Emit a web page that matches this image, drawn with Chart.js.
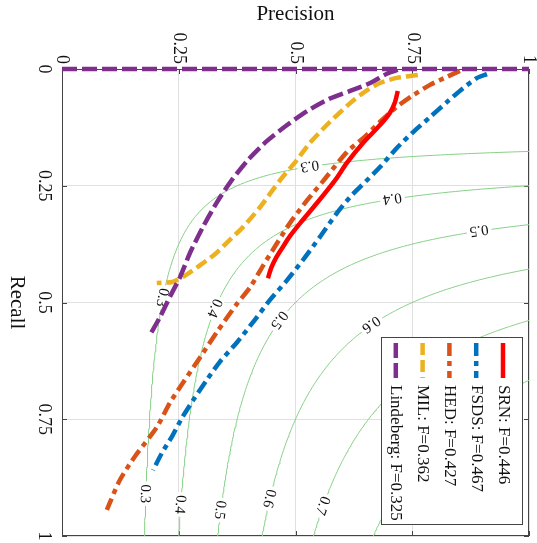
<!DOCTYPE html>
<html lang="en">
<head>
<meta charset="UTF-8">
<title>Precision / Recall</title>
<script src="https://cdn.jsdelivr.net/npm/chart.js"></script>
<style>
  body { margin: 0; padding: 0; background: #fff; }
  #wrap { width: 537px; height: 543px; }
</style>
</head>
<body>
<div id="wrap"><canvas id="prChart" width="537" height="543"></canvas></div>
<script>
// precision (horizontal) and recall (vertical)
const srnP = [0.719, 0.713, 0.702, 0.681, 0.645, 0.610, 0.585, 0.546, 0.510, 0.488, 0.473, 0.458, 0.448, 0.441];
const srnR = [0.047, 0.071, 0.094, 0.120, 0.158, 0.201, 0.238, 0.287, 0.330, 0.358, 0.381, 0.405, 0.426, 0.448];

const fsdsP = [0.910, 0.889, 0.859, 0.824, 0.788, 0.752, 0.717, 0.681, 0.640, 0.617, 0.589, 0.552, 0.516, 0.482, 0.445, 0.413, 0.375, 0.338, 0.310, 0.281, 0.257, 0.236, 0.214, 0.195];
const fsdsR = [0.011, 0.019, 0.041, 0.071, 0.103, 0.135, 0.169, 0.210, 0.251, 0.274, 0.308, 0.360, 0.409, 0.452, 0.495, 0.537, 0.585, 0.627, 0.666, 0.709, 0.747, 0.786, 0.822, 0.859];

const hedP = [0.852, 0.824, 0.788, 0.752, 0.717, 0.681, 0.645, 0.610, 0.559, 0.525, 0.488, 0.458, 0.430, 0.403, 0.373, 0.332, 0.296, 0.259, 0.231, 0.203, 0.158, 0.124, 0.096];
const hedR = [0.004, 0.017, 0.034, 0.056, 0.081, 0.113, 0.148, 0.178, 0.240, 0.281, 0.330, 0.377, 0.422, 0.467, 0.505, 0.563, 0.617, 0.672, 0.715, 0.767, 0.827, 0.880, 0.944];

const milP = [0.762, 0.717, 0.681, 0.645, 0.617, 0.574, 0.531, 0.503, 0.467, 0.424, 0.388, 0.355, 0.328, 0.296, 0.259, 0.236, 0.203];
const milR = [0.013, 0.019, 0.030, 0.051, 0.073, 0.113, 0.158, 0.195, 0.238, 0.296, 0.338, 0.370, 0.396, 0.420, 0.445, 0.456, 0.458];

const lindP = [0.719, 0.698, 0.660, 0.617, 0.572, 0.525, 0.482, 0.439, 0.398, 0.362, 0.332, 0.302, 0.274, 0.253, 0.231, 0.210, 0.188];
const lindR = [0.002, 0.009, 0.030, 0.047, 0.064, 0.090, 0.120, 0.154, 0.195, 0.240, 0.285, 0.338, 0.394, 0.445, 0.488, 0.531, 0.570];
// Lindeberg also runs along recall = 0
const lindTopP = [0, 1];
const lindTopR = [0, 0];

const legendLabels = ["SRN: F=0.446", "FSDS: F=0.467", "HED: F=0.427", "MIL: F=0.362", "Lindeberg: F=0.325"];

const tickValues = [0, 0.25, 0.5, 0.75, 1];
const tickLabels = ["0", "0.25", "0.5", "0.75", "1"];

// iso-F contours, and roughly where each label sits (precision, recall)
const isoF = [0.3, 0.4, 0.5, 0.6, 0.7, 0.8];
const isoLabelF = [0.3, 0.3, 0.3, 0.4, 0.4, 0.4, 0.5, 0.5, 0.5, 0.6, 0.6, 0.7];
const isoLabelP = [0.531, 0.210, 0.176, 0.709, 0.323, 0.253, 0.891, 0.467, 0.341, 0.660, 0.454, 0.570];
const isoLabelR = [0.206, 0.488, 0.912, 0.276, 0.510, 0.929, 0.345, 0.537, 0.944, 0.544, 0.923, 0.940];

const SERIF = '"Liberation Serif", "Times New Roman", serif';

function pts(P, R) {
    return P.map((p, i) => ({ x: p, y: R[i] }));
}

// F = 2PR / (P + R)  ->  R = F*P / (2P - F)
function isoRecall(f, p) {
    return f * p / (2 * p - f);
}

function isoCurve(f) {
    const pMin = f / (2 - f);
    const ps = [];
    for (let i = 0; i <= 100; i++) {
        const u = pMin + (1 - pMin) * i / 100;
        ps.push(u);
        ps.push(isoRecall(f, u)); // same formula gives P for an even step in R
    }
    ps.sort((a, b) => a - b);
    return ps.map(p => ({ x: p, y: Math.min(1, isoRecall(f, p)) }));
}

const lineBase = { showLine: true, pointRadius: 0, fill: false, borderWidth: 4.5, tension: 0.25 };
const dashDot = [13, 5, 5, 5];

const datasets = [
    { ...lineBase, label: legendLabels[4], data: pts(lindTopP, lindTopR), borderColor: '#7e2f8e', borderDash: [15, 5], tension: 0, clip: false, order: 0 },
    { ...lineBase, label: legendLabels[4], data: pts(lindP, lindR), borderColor: '#7e2f8e', borderDash: [15, 5], order: 1, inLegend: 4 },
    { ...lineBase, label: legendLabels[0], data: pts(srnP, srnR), borderColor: '#ff0000', order: 2, inLegend: 0 },
    { ...lineBase, label: legendLabels[3], data: pts(milP, milR), borderColor: '#edb120', borderDash: [12, 5], order: 3, inLegend: 3 },
    { ...lineBase, label: legendLabels[2], data: pts(hedP, hedR), borderColor: '#d95319', borderDash: dashDot, order: 4, inLegend: 2 },
    { ...lineBase, label: legendLabels[1], data: pts(fsdsP, fsdsR), borderColor: '#0072bd', borderDash: dashDot, order: 5, inLegend: 1 }
];
isoF.forEach(f => {
    datasets.push({ showLine: true, pointRadius: 0, fill: false, data: isoCurve(f), borderColor: '#86d086', borderWidth: 1, tension: 0, order: 10, isoF: f });
});

function rotText(ctx, text, x, y, angle, align) {
    ctx.save();
    ctx.translate(x, y);
    ctx.rotate(angle);
    ctx.textAlign = align;
    ctx.textBaseline = 'middle';
    ctx.fillText(text, 0, 0);
    ctx.restore();
}

const prPlugin = {
    id: 'prDecor',
    beforeDatasetsDraw(chart) {
        const { ctx, chartArea: a, scales } = chart;
        ctx.save();
        ctx.strokeStyle = '#444';
        ctx.lineWidth = 1;
        ctx.strokeRect(a.left + 0.5, a.top + 0.5, a.right - a.left - 1, a.bottom - a.top - 1);
        ctx.beginPath();
        tickValues.forEach(v => {
            const x = Math.round(scales.x.getPixelForValue(v)) + 0.5;
            const y = Math.round(scales.y.getPixelForValue(v)) + 0.5;
            ctx.moveTo(x, a.top); ctx.lineTo(x, a.top + 5);
            ctx.moveTo(x, a.bottom); ctx.lineTo(x, a.bottom - 5);
            ctx.moveTo(a.left, y); ctx.lineTo(a.left + 5, y);
            ctx.moveTo(a.right, y); ctx.lineTo(a.right - 5, y);
        });
        ctx.stroke();
        ctx.restore();
    },
    afterDatasetDraw(chart, args) {
        const ds = chart.data.datasets[args.index];
        if (!ds.isoF) return;
        const { ctx, scales } = chart;
        const sx = scales.x, sy = scales.y;
        ctx.save();
        ctx.font = '15px ' + SERIF;
        isoLabelF.forEach((f, i) => {
            if (f !== ds.isoF) return;
            // snap the label onto the nearest point of its curve
            const tx = sx.getPixelForValue(isoLabelP[i]);
            const ty = sy.getPixelForValue(isoLabelR[i]);
            let best = null, bestD = Infinity;
            ds.data.forEach(pt => {
                const d = Math.hypot(sx.getPixelForValue(pt.x) - tx, sy.getPixelForValue(pt.y) - ty);
                if (d < bestD) { bestD = d; best = pt.x; }
            });
            const p = best;
            const x = sx.getPixelForValue(p);
            const y = sy.getPixelForValue(isoRecall(f, p));
            const h = 0.0005;
            const dx = sx.getPixelForValue(p + h) - sx.getPixelForValue(p - h);
            const dy = sy.getPixelForValue(isoRecall(f, p + h)) - sy.getPixelForValue(isoRecall(f, p - h));
            let ang = Math.atan2(dy, dx);
            if (ang < 0) ang += Math.PI;
            const text = String(f);
            const w = ctx.measureText(text).width;
            ctx.save();
            ctx.translate(x, y);
            ctx.rotate(ang);
            ctx.fillStyle = '#fff';
            ctx.fillRect(-w / 2 - 3, -6, w + 6, 12);
            ctx.fillStyle = '#111';
            ctx.textAlign = 'center';
            ctx.textBaseline = 'middle';
            ctx.fillText(text, 0, 1);
            ctx.restore();
        });
        ctx.restore();
    },
    afterDraw(chart) {
        const { ctx, chartArea: a, scales } = chart;
        ctx.save();
        ctx.fillStyle = '#111';
        ctx.font = '18px ' + SERIF;
        tickValues.forEach((v, i) => {
            rotText(ctx, tickLabels[i], scales.x.getPixelForValue(v), a.top - 5, Math.PI / 2, 'right');
            rotText(ctx, tickLabels[i], a.left - 18, scales.y.getPixelForValue(v), Math.PI / 2, 'center');
        });
        ctx.font = '21px ' + SERIF;
        ctx.textAlign = 'center';
        ctx.textBaseline = 'middle';
        ctx.fillText('Precision', (a.left + a.right) / 2, 14);
        rotText(ctx, 'Recall', 17, (a.top + a.bottom) / 2, Math.PI / 2, 'center');

        // legend, turned a quarter like the rest of the figure
        const bx = 381, by = 337, bw = 141, bh = 187;
        ctx.fillStyle = '#fff';
        ctx.fillRect(bx, by, bw, bh);
        ctx.strokeStyle = '#444';
        ctx.lineWidth = 1;
        ctx.strokeRect(bx + 0.5, by + 0.5, bw, bh);
        ctx.font = '17px ' + SERIF;
        chart.data.datasets.forEach(ds => {
            if (ds.inLegend === undefined) return;
            const cx = bx + bw - 19 - ds.inLegend * 26.8;
            ctx.save();
            ctx.strokeStyle = ds.borderColor;
            ctx.lineWidth = 4.5;
            ctx.setLineDash(ds.borderDash || []);
            ctx.beginPath();
            ctx.moveTo(cx, by + 6);
            ctx.lineTo(cx, by + 41);
            ctx.stroke();
            ctx.restore();
            ctx.fillStyle = '#111';
            rotText(ctx, ds.label, cx, by + 48, Math.PI / 2, 'left');
        });
        ctx.restore();
    }
};

new Chart(document.getElementById('prChart'), {
    type: 'scatter',
    data: { datasets: datasets },
    options: {
        responsive: false,
        animation: false,
        layout: { padding: { left: 62, top: 69, right: 8, bottom: 7 } },
        plugins: { legend: { display: false }, tooltip: { enabled: false } },
        scales: {
            x: {
                type: 'linear', position: 'top', min: 0, max: 1,
                ticks: { display: false, stepSize: 0.25 },
                grid: { color: '#e0e0e0', drawTicks: false },
                border: { display: false }
            },
            y: {
                type: 'linear', min: 0, max: 1, reverse: true,
                ticks: { display: false, stepSize: 0.25 },
                grid: { color: '#e0e0e0', drawTicks: false },
                border: { display: false }
            }
        }
    },
    plugins: [prPlugin]
});
</script>
</body>
</html>
